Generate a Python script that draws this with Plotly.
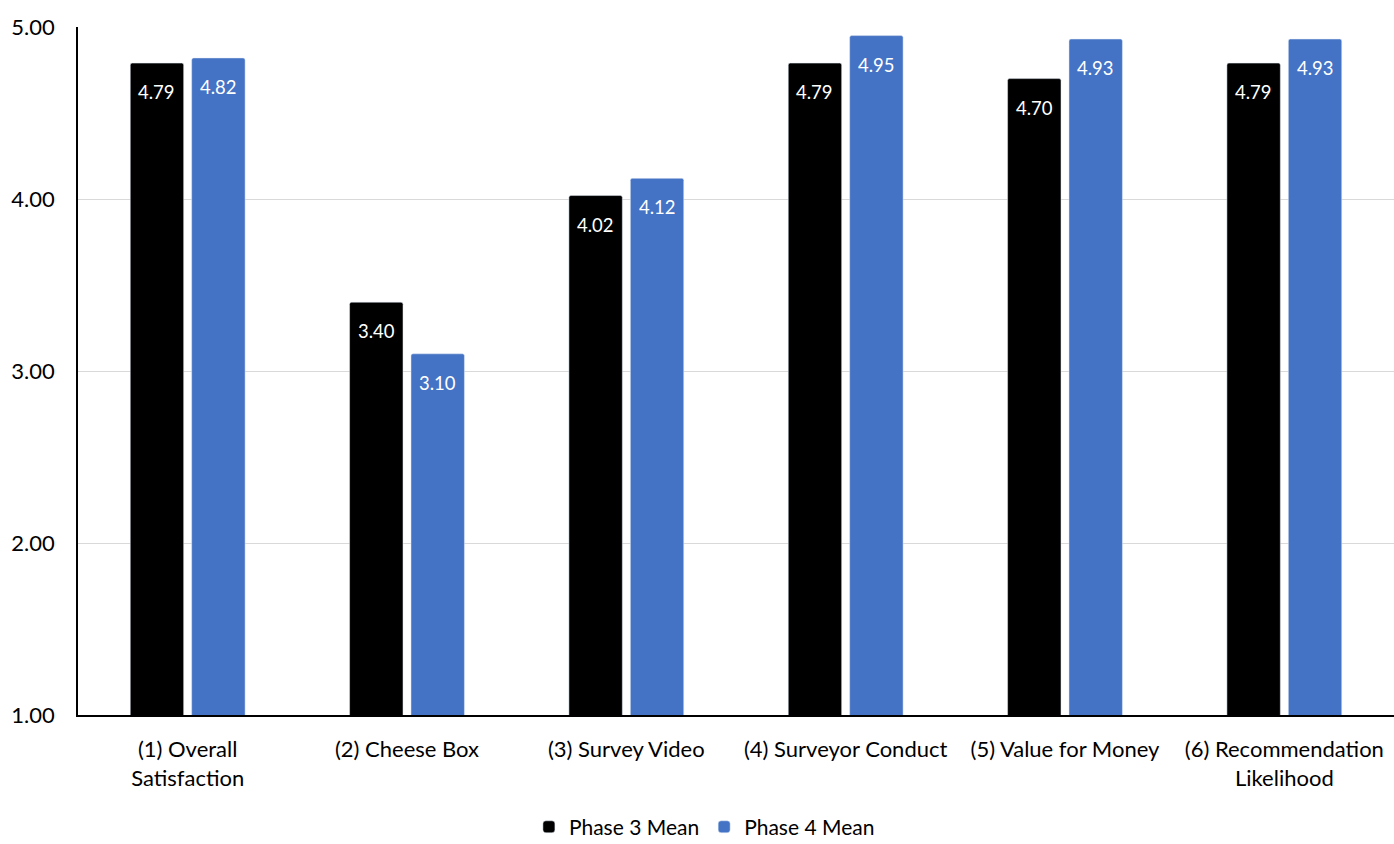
import plotly.graph_objects as go

categories = ["(1) Overall<br>Satisfaction", "(2) Cheese Box", "(3) Survey Video",
              "(4) Surveyor Conduct", "(5) Value for Money", "(6) Recommendation<br>Likelihood"]
phase3 = [4.79, 3.40, 4.02, 4.79, 4.70, 4.79]
phase4 = [4.82, 3.10, 4.12, 4.95, 4.93, 4.93]
y_ticks = [1, 2, 3, 4, 5]
y_tick_labels = ["1.00", "2.00", "3.00", "4.00", "5.00"]

FONT = "Lato, 'Open Sans', sans-serif"
BLACK = "#000000"
BLUE = "#4472C4"

fig = go.Figure()
fig.add_trace(go.Bar(name="Phase 3 Mean", x=categories, y=phase3, marker=dict(color=BLACK, cornerradius=2)))
fig.add_trace(go.Bar(name="Phase 4 Mean", x=categories, y=phase4, marker=dict(color=BLUE, cornerradius=2)))

annotations = []
for series, shift in ((phase3, -30.75), (phase4, 30.75)):
    for c, v in zip(categories, series):
        annotations.append(dict(x=c, y=v, text=f"{v:.2f}", showarrow=False, xshift=shift, yshift=-29,
                                font=dict(family=FONT, size=18.5, color="white"),
                                xanchor="center", yanchor="middle"))

fig.update_layout(
    width=1394, height=844,
    margin=dict(l=78, r=0, t=27, b=129, autoexpand=False),
    paper_bgcolor="white", plot_bgcolor="white",
    barmode="group", bargap=0.44, bargroupgap=0.13,
    font=dict(family=FONT, size=22, color="#000000"),
    showlegend=True,
    legend=dict(orientation="h", x=0.476, xanchor="center", y=-0.163, yanchor="middle",
                font=dict(family=FONT, size=21), itemwidth=30, traceorder="normal"),
    annotations=annotations,
)
fig.update_yaxes(range=[1, 5], tickvals=y_ticks, ticktext=y_tick_labels, showgrid=True,
                 gridcolor="#D9D9D9", gridwidth=1.3, showline=True, linecolor="black", linewidth=1.5,
                 zeroline=False, ticks="", ticklabelstandoff=17, tickfont=dict(size=22),
                 automargin=False)
fig.update_xaxes(showline=True, linecolor="black", linewidth=1.5, ticks="",
                 ticklabelstandoff=14, tickfont=dict(size=22), automargin=False)

fig.write_html("out.html")
